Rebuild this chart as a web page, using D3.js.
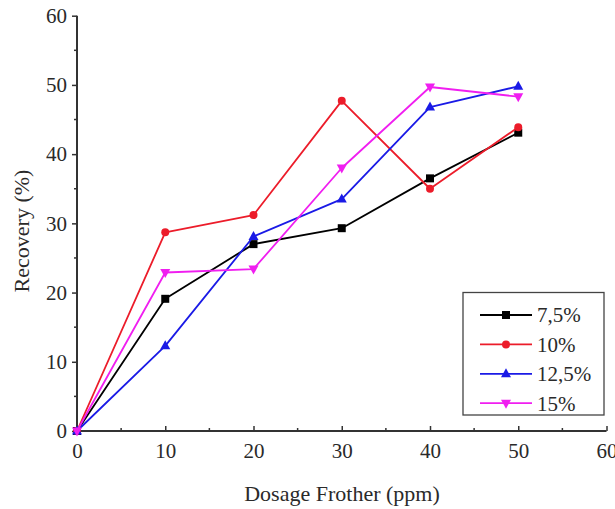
<!DOCTYPE html>
<html>
<head>
<meta charset="utf-8">
<script src="https://cdn.jsdelivr.net/npm/d3@7"></script>
<style>
  html, body { margin: 0; padding: 0; background: #fff; }
  svg { display: block; }
  text { font-family: "Liberation Serif", "Times New Roman", serif; fill: #2a2a2a; }
</style>
</head>
<body>
<svg id="chart" width="615" height="509"></svg>
<script>
// Frother dosage (ppm) on the x axis
const dosage = [0, 10, 20, 30, 40, 50];

// Recovery (%) for each solids concentration
const rec75  = [0, 19.1, 27.0, 29.3, 36.5, 43.1];
const rec10  = [0, 28.7, 31.2, 47.7, 35.0, 43.9];
const rec125 = [0, 12.3, 28.1, 33.5, 46.8, 49.8];
const rec15  = [0, 22.9, 23.4, 38.0, 49.7, 48.3];

const seriesNames = ["7,5%", "10%", "12,5%", "15%"];
const xTicks = [0, 10, 20, 30, 40, 50, 60];
const yTicks = [0, 10, 20, 30, 40, 50, 60];

const colors = ["#000000", "#ec1c2a", "#1a1ae6", "#f01ef0"];
const symbols = [d3.symbolSquare, d3.symbolCircle, "triUp", "triDown"];
const symbolSizes = [64, 50, 0, 0];

const series = seriesNames.map((name, i) => ({
  name,
  color: colors[i],
  symbol: symbols[i],
  size: symbolSizes[i],
  values: [rec75, rec10, rec125, rec15][i].map((v, j) => ({ x: dosage[j], y: v }))
}));

const svg = d3.select("#chart");
const x = d3.scaleLinear().domain([0, 60]).range([77, 606.5]);
const y = d3.scaleLinear().domain([0, 60]).range([431, 15.7]);

// Minor ticks every 5 units
const minor = d3.range(5, 60, 10);

// Y axis: major ticks outside, minor ticks shorter
const yAxisG = svg.append("g").attr("transform", `translate(${x(0)},0)`);
yAxisG.call(d3.axisLeft(y).tickValues(yTicks).tickSize(5).tickPadding(5));
yAxisG.append("g").selectAll("line").data(minor).join("line")
  .attr("x1", -3).attr("x2", 0)
  .attr("y1", d => y(d)).attr("y2", d => y(d))
  .attr("stroke", "#333").attr("stroke-width", 1.5);

// X axis: ticks point inward
const xAxisG = svg.append("g").attr("transform", `translate(0,${y(0)})`);
xAxisG.call(d3.axisBottom(x).tickValues(xTicks).tickSize(-5).tickPadding(12));
xAxisG.append("g").selectAll("line").data(minor).join("line")
  .attr("x1", d => x(d)).attr("x2", d => x(d))
  .attr("y1", -3).attr("y2", 0)
  .attr("stroke", "#333").attr("stroke-width", 1.5);

[yAxisG, xAxisG].forEach(g => {
  g.select(".domain").attr("stroke", "#333").attr("stroke-width", 2);
  g.selectAll(".tick line").attr("stroke", "#333").attr("stroke-width", 1.5);
  g.selectAll(".tick text").attr("font-size", 21).attr("fill", "#2a2a2a")
    .attr("font-family", "'Liberation Serif', 'Times New Roman', serif");
});
xAxisG.selectAll(".tick text").attr("dy", "0.71em").attr("y", 12);
// Remove the outer end stubs so the axis lines stop at the domain
yAxisG.select(".domain").attr("d", `M0,${y(60)}V${y(0)}`);
xAxisG.select(".domain").attr("d", `M${x(0)},0H${x(60)}`);

// Axis titles
svg.append("text")
  .attr("x", 342).attr("y", 501)
  .attr("text-anchor", "middle").attr("font-size", 22)
  .text("Dosage Frother (ppm)");
svg.append("text")
  .attr("transform", "translate(29,231) rotate(-90)")
  .attr("text-anchor", "middle").attr("font-size", 22)
  .text("Recovery (%)");

// Marker path builder
function markerPath(sym, size) {
  if (sym === "triUp") return "M0,-5.5L5,3.5L-5,3.5Z";
  if (sym === "triDown") return "M0,5.5L5,-3.5L-5,-3.5Z";
  return d3.symbol().type(sym).size(size)();
}

const line = d3.line().x(d => x(d.x)).y(d => y(d.y));

const plot = svg.append("g");
series.forEach(s => {
  plot.append("path")
    .datum(s.values)
    .attr("d", line)
    .attr("fill", "none")
    .attr("stroke", s.color)
    .attr("stroke-width", 1.8)
    .attr("stroke-linejoin", "round");
  plot.append("g").selectAll("path").data(s.values).join("path")
    .attr("transform", d => `translate(${x(d.x)},${y(d.y)})`)
    .attr("d", markerPath(s.symbol, s.size))
    .attr("fill", s.color);
});

// Legend
const legend = svg.append("g");
legend.append("rect")
  .attr("x", 463).attr("y", 292.5).attr("width", 141).attr("height", 122.5)
  .attr("fill", "#fff").attr("stroke", "#444").attr("stroke-width", 1.3);
series.forEach((s, i) => {
  const ly = 315 + i * 29.4;
  legend.append("line")
    .attr("x1", 480).attr("x2", 532).attr("y1", ly).attr("y2", ly)
    .attr("stroke", s.color).attr("stroke-width", 1.8);
  legend.append("path")
    .attr("transform", `translate(506,${ly})`)
    .attr("d", markerPath(s.symbol, s.size))
    .attr("fill", s.color);
  legend.append("text")
    .attr("x", 537).attr("y", ly).attr("dy", "0.35em")
    .attr("font-size", 21)
    .text(s.name);
});
</script>
</body>
</html>
